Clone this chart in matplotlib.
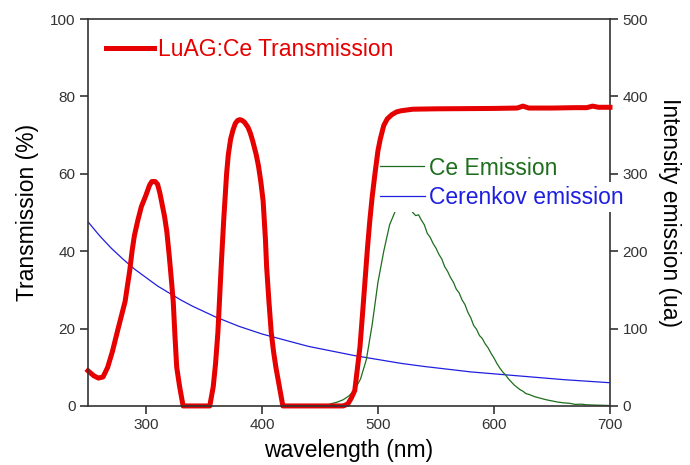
import matplotlib
matplotlib.use("Agg")
import matplotlib.pyplot as plt

plt.rcParams['font.family'] = ['Liberation Sans', 'DejaVu Sans']

# LuAG:Ce transmission (%)
trans_nm = [250, 255, 259, 263, 267, 271, 276, 282, 286, 288, 290, 293, 296, 300, 303, 305,
            308, 310, 312, 314, 316, 318, 320, 321.5, 323.5, 325, 326.5, 329, 332, 355,
            358, 360, 362, 365, 367, 369.5, 371, 373, 375, 377, 379, 381, 383, 385, 388,
            390, 392, 395, 397, 399, 401, 403, 404, 406, 408, 410, 412, 415, 418, 470,
            474, 477, 480, 482, 484.5, 487, 489, 491, 493, 495, 497.4, 500, 502, 505,
            508, 512, 516, 520, 530, 550, 600, 620, 625, 630, 650, 670, 680, 685, 690, 700]
trans_pct = [9.1, 7.8, 7.2, 7.5, 10, 14, 20, 27, 35, 40, 44, 48, 51.5, 54.5, 57, 58,
             58, 57.3, 55, 52, 49, 45, 39, 34, 27, 18, 10, 5, 0, 0,
             5, 11, 19, 37, 48, 60, 65, 69, 71.3, 73, 73.8, 74, 73.8, 73.3, 72,
             70.5, 68.5, 65, 62, 58, 53, 43, 36, 27, 19, 14, 10, 5, 0, 0,
             0.5, 2, 4, 9, 15.3, 25, 33, 41, 48, 54, 60, 66, 69, 72.5,
             74.2, 75.3, 76, 76.3, 76.7, 76.8, 76.9, 77.0, 77.5, 77.0, 77.0, 77.1, 77.1, 77.5, 77.2, 77.2]

# Ce emission (ua)
ce_nm = [458, 460, 465, 470, 475, 480, 485, 490, 495, 500, 505, 510, 515, 520, 525,
         530, 532.5, 535, 537.5, 540, 542.5, 545, 547.5, 550, 552.5, 555, 557.5, 560,
         562.5, 565, 567.5, 570, 572.5, 575, 577.5, 580, 582.5, 585, 587.5, 590, 592.5,
         595, 597.5, 600, 602.5, 605, 607.5, 610, 612.5, 615, 617.5, 620, 622.5, 625,
         627.5, 630, 635, 640, 645, 650, 655, 660, 665, 670, 675, 680, 685, 690, 695, 700]
ce_int = [2, 3, 5, 8, 13, 21, 35, 60, 105, 160, 200, 234, 252, 265, 262,
          250, 246, 247, 240, 234, 223, 218, 210, 204, 196, 190, 180, 174,
          166, 160, 151, 146, 137, 131, 121, 114, 104, 99, 91, 87, 80,
          75, 68, 62, 55, 49, 44, 40, 35, 31, 27, 24, 21, 19,
          16, 15, 12, 10, 8, 6.5, 5, 4, 3.5, 2, 2.3, 1.5, 1.2, 1, 0.8, 0.5]

# Cerenkov emission (ua)
cer_nm = [250, 260, 270, 280, 290, 300, 310, 320, 330, 340, 350, 360, 370, 380, 390, 400,
          420, 440, 460, 480, 500, 520, 540, 560, 580, 600, 620, 640, 660, 680, 700]
cer_int = [238, 220, 204, 190, 177, 166, 155, 146, 137, 129, 122, 115, 109, 103, 98, 93,
           85, 77, 71, 65, 60, 55, 51, 47.5, 44, 41.5, 39, 36.5, 34, 32, 30]

x_ticks = [300, 400, 500, 600, 700]
y1_ticks = [0, 20, 40, 60, 80, 100]
y2_ticks = [0, 100, 200, 300, 400, 500]

RED = '#e60000'
GREEN = '#1d6e1d'
BLUE = '#1f1fe0'
TICKC = '#333333'

fig = plt.figure(figsize=(6.9, 4.65), dpi=100)
ax1 = fig.add_axes([0.1275, 0.127, 0.7565, 0.832])
ax2 = ax1.twinx()
ax1.set_zorder(ax2.get_zorder() + 1)
ax1.patch.set_visible(False)

ax2.plot(cer_nm, cer_int, color=BLUE, lw=0.9, label='Cerenkov emission')
ax2.plot(ce_nm, ce_int, color=GREEN, lw=0.9, label='Ce Emission')
ax1.plot(trans_nm, trans_pct, color=RED, lw=3.6, clip_on=False,
         solid_joinstyle='round', label='LuAG:Ce Transmission')

ax1.set_xlim(250, 700)
ax1.set_ylim(0, 100)
ax2.set_ylim(0, 500)
ax1.set_xticks(x_ticks)
ax1.set_yticks(y1_ticks)
ax2.set_yticks(y2_ticks)

for ax in (ax1, ax2):
    ax.tick_params(direction='out', length=6, width=1.2, color=TICKC,
                   labelcolor=TICKC, labelsize=11, pad=3)
    for s in ax.spines.values():
        s.set_color(TICKC)
        s.set_linewidth(1.2)
ax1.spines['right'].set_visible(False)
for k in ('left', 'top', 'bottom'):
    ax2.spines[k].set_visible(False)

ax1.set_xlabel('wavelength (nm)', fontsize=16.5, labelpad=5)
ax1.set_ylabel('Transmission (%)', fontsize=16.5, labelpad=8)
ax2.set_ylabel('Intensity emission (ua)', fontsize=16.5, rotation=270, labelpad=24)

# legends
h_red, l_red = ax1.get_legend_handles_labels()
leg1 = ax1.legend(h_red, l_red, loc='center left', bbox_to_anchor=(0.0345, 0.9225),
                  frameon=False, fontsize=16.5, handlelength=2.1, handletextpad=0.15,
                  borderpad=0, borderaxespad=0, labelcolor=[RED])

h2, l2 = ax2.get_legend_handles_labels()
leg_ce = ax2.legend([h2[1]], [l2[1]], loc='center left', bbox_to_anchor=(0.559, 0.615),
                    frameon=False, fontsize=16.5, handlelength=1.95, handletextpad=0.2,
                    borderpad=0, borderaxespad=0, labelcolor=[GREEN])
ax2.add_artist(leg_ce)
leg_cer = ax2.legend([h2[0]], [l2[0]], loc='center left', bbox_to_anchor=(0.553, 0.540),
                     frameon=True, fontsize=16.5, handlelength=1.95, handletextpad=0.2,
                     borderpad=0.15, borderaxespad=0, labelcolor=[BLUE],
                     facecolor='white', edgecolor='none', framealpha=1, fancybox=False)

fig.savefig('out.png', dpi=100)
